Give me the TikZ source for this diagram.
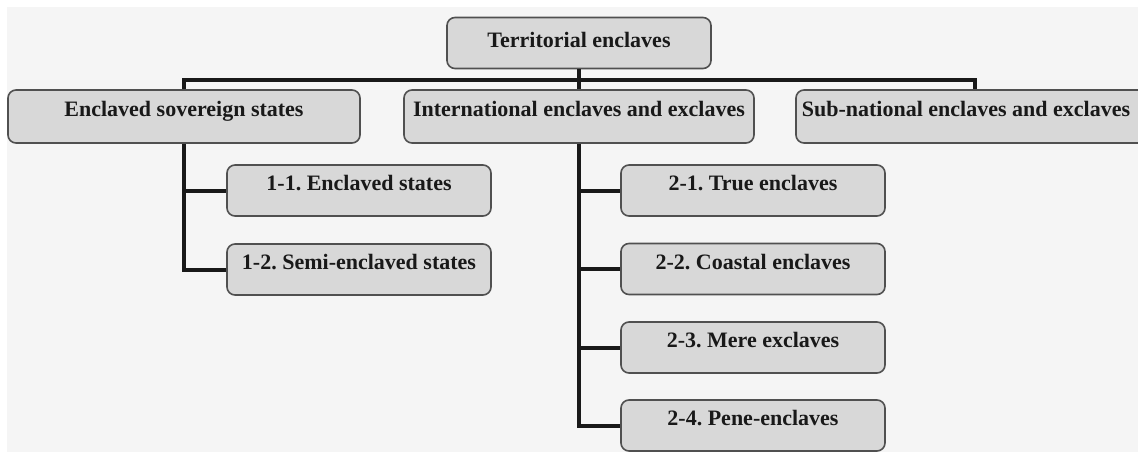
\documentclass[tikz,border=0pt]{standalone}
\usepackage{fontspec}
\setmainfont{Liberation Serif}
\definecolor{bgc}{RGB}{245,245,245}
\definecolor{boxfill}{RGB}{216,216,216}
\definecolor{boxline}{RGB}{80,80,80}
\definecolor{txt}{RGB}{25,25,25}
\frenchspacing
\begin{document}
\begin{tikzpicture}[x=1pt,y=-1pt,
  box/.style={draw=boxline, line width=1.6pt, fill=boxfill, rounded corners=8pt,
    inner sep=0pt, text=txt, font=\fontsize{22}{26}\selectfont\bfseries\frenchspacing,
    text height=14pt, text depth=14pt},
  lvl/.style={box, minimum height=53pt},
  leaf/.style={box, minimum width=264pt, minimum height=51pt},
  conn/.style={draw=black!90, line width=4pt}]
\useasboundingbox (0,0) rectangle (1138,452);
\fill[white] (0,0) rectangle (1138,452);
\fill[bgc] (7,7) rectangle (1138,452);
% nodes
\node[box, minimum width=264pt, minimum height=51pt, text height=16pt, text depth=6pt] (root) at (579,43) {Territorial enclaves};
\node[lvl, minimum width=352pt] (A) at (184,116.5) {Enclaved sovereign states};
\node[lvl, minimum width=350pt] (B) at (579,116.5) {International enclaves and exclaves};
\node[lvl, minimum width=358pt] (C) at (975,116.5) {Sub-national enclaves and exclaves\hspace*{18pt}};
\node[leaf] (a1) at (359,190.5) {1-1. Enclaved states};
\node[leaf] (a2) at (359,269.5) {1-2. Semi-enclaved states};
\node[leaf] (b1) at (753,190.5) {2-1. True enclaves};
\node[leaf] (b2) at (753,269) {2-2. Coastal enclaves};
\node[leaf] (b3) at (753,347.5) {2-3. Mere exclaves};
\node[leaf] (b4) at (753,425.5) {2-4. Pene-enclaves};
% connectors
\coordinate (bar) at (579,80);
\draw[conn] (root.south) -- (bar);
\draw[conn] (A.north) -- (A.north |- bar) -- (C.north |- bar) -- (C.north);
\draw[conn] (bar) -- (B.north);
\draw[conn] (A.south) |- (a2.west);
\draw[conn] (A.south |- a1.west) -- (a1.west);
\draw[conn] (B.south) |- (b4.west);
\draw[conn] (B.south |- b1.west) -- (b1.west);
\draw[conn] (B.south |- b2.west) -- (b2.west);
\draw[conn] (B.south |- b3.west) -- (b3.west);
\end{tikzpicture}
\end{document}
